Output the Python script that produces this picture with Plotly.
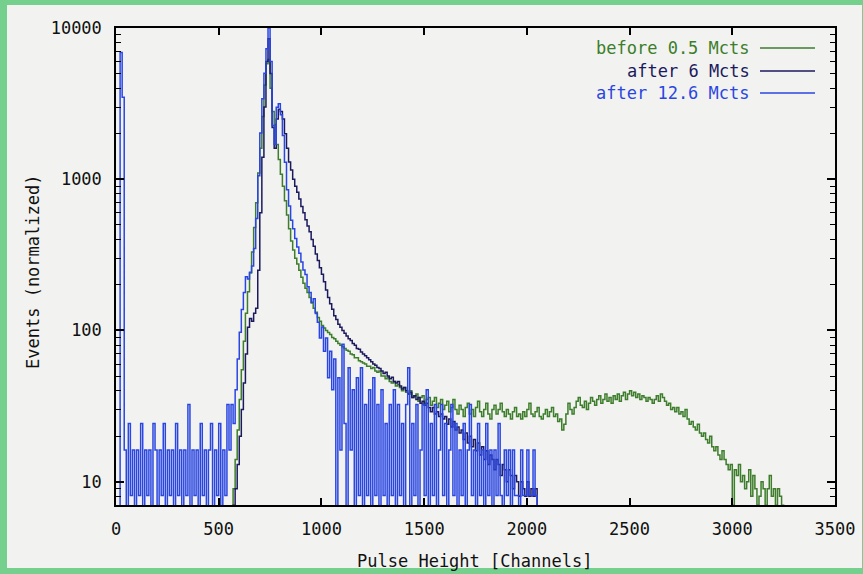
import plotly.graph_objects as go

# ---------------- data (channel bins of 10) ----------------
bin_width = 10

green_start = 560
green_values = [
    6, 9, 14, 22, 35, 55, 85, 130, 180, 240,
    330, 480, 700, 1100, 1600, 2600, 4200, 5800, 6200, 4000,
    2800, 2300, 1700, 1350, 1080, 900, 720, 580, 470, 390,
    340, 300, 275, 250, 225, 205, 190, 178, 165, 152,
    140, 132, 122, 115, 108, 104, 100, 97, 94, 90,
    88, 85, 82, 80, 78, 76, 74, 73, 70, 69,
    66, 66, 63, 62, 61, 60, 58, 58, 56, 57,
    54, 53, 54, 50, 50, 48, 49, 46, 45, 46,
    43, 44, 42, 40, 42, 39, 38, 40, 36, 37,
    38, 34, 36, 37, 33, 35, 36, 32, 34, 36,
    31, 33, 35, 30, 32, 34, 29, 31, 35, 30,
    28, 32, 30, 27, 31, 33, 28, 30, 27, 31,
    34, 29, 27, 30, 33, 28, 26, 30, 32, 28,
    30, 33, 29, 27, 30, 28, 26, 29, 31, 27,
    28, 26, 29, 27, 30, 33, 28, 27, 29, 31,
    27, 26, 28, 30, 27, 29, 31, 27, 28, 25,
    26, 22, 24, 28, 33, 30, 28, 31, 34, 36,
    32, 31, 34, 30, 33, 36, 34, 32, 35, 37,
    33, 35, 38, 34, 36, 33, 37, 35, 38, 34,
    37, 39, 35, 38, 40, 37, 39, 36, 38, 35,
    37, 36, 34, 36, 35, 33, 35, 37, 34, 38,
    36, 34, 32, 33, 30, 31, 29, 31, 28, 29,
    27, 30, 26, 24, 25, 23, 22, 24, 21, 20,
    21, 19, 18, 20, 17, 16, 17, 15, 14, 16,
    14, 13, 12, 13, 7, 12, 11, 13, 10, 11,
    9, 10, 12, 8, 11, 9, 7, 8, 10, 9,
    7, 9, 11, 8, 9, 7, 9, 8, 7, 6,
]

navy_start = 560
navy_values = [
    6, 7, 9, 13, 20, 30, 45, 70, 105, 120,
    115, 130, 140, 250, 600, 1400, 3000, 6000, 8500, 5000,
    2200, 1600, 2500, 2900, 2800, 2500, 2000, 1600, 1300, 1150,
    1000, 900, 820, 740, 660, 600, 540, 490, 450, 400,
    360, 320, 290, 260, 235, 210, 185, 165, 150, 138,
    125, 118, 110, 105, 100, 96, 92, 88, 86, 82,
    80, 76, 75, 72, 70, 68, 66, 64, 62, 60,
    59, 57, 56, 54, 52, 53, 50, 48, 49, 46,
    45, 46, 43, 41, 42, 40, 38, 39, 36, 37,
    35, 36, 33, 34, 32, 33, 31, 29, 31, 28,
    29, 27, 28, 26, 27, 24, 26, 23, 25, 22,
    23, 21, 22, 19, 21, 18, 20, 17, 19, 16,
    18, 15, 17, 14, 16, 13, 15, 14, 12, 14,
    13, 11, 13, 12, 10, 12, 11, 9, 11, 10,
    8, 10, 9, 8, 10, 8, 9, 8, 9, 6,
]

# raw counts of the last run; normalised with blue_norm
blue_start = 0
blue_norm = 8.1
blue_counts = [
    0, 0, 850, 430, 2, 0, 3, 1, 2, 0,
    2, 1, 3, 0, 2, 1, 2, 0, 3, 2,
    0, 2, 1, 3, 0, 2, 1, 2, 0, 3,
    1, 2, 0, 2, 1, 4, 0, 2, 1, 2,
    0, 3, 1, 2, 0, 2, 3, 0, 2, 1,
    3, 0, 2, 1, 4, 2, 4, 3, 5, 8,
    12, 17, 22, 28, 27, 30, 33, 43, 68, 130,
    250, 420, 620, 900, 1235, 740, 280, 210, 370, 390,
    330, 240, 160, 105, 82, 66, 58, 50, 44, 40,
    35, 31, 29, 24, 22, 19, 20, 16, 14, 11,
    13, 9, 11, 6, 9, 5, 8, 0, 6, 2,
    10, 3, 0, 7, 2, 5, 0, 6, 1, 7,
    0, 4, 1, 5, 0, 6, 1, 4, 0, 5,
    1, 3, 0, 4, 1, 5, 0, 4, 1, 3,
    0, 4, 7, 0, 3, 1, 4, 0, 2, 4,
    1, 5, 0, 3, 1, 4, 0, 2, 4, 1,
    3, 0, 2, 4, 1, 3, 0, 2, 1, 3,
    0, 2, 4, 1, 2, 0, 3, 1, 2, 0,
    3, 1, 2, 0, 2, 1, 3, 1, 0, 2,
    1, 2, 0, 2, 1, 1, 0, 2, 1, 1,
    2, 1, 1, 2, 1, 0,
]

series_names = ["before 0.5 Mcts", "after 6 Mcts", "after 12.6 Mcts"]
series_colors = ["#3d7d2c", "#1c1a5e", "#2a46e2"]

x_title = "Pulse Height [Channels]"
y_title = "Events (normalized)"
x_ticks = [0, 500, 1000, 1500, 2000, 2500, 3000, 3500]
y_ticks = [10, 100, 1000, 10000]
y_ticktext = ["10", "100", "1000", "10000"]
y_minor = [8, 9, 20, 30, 40, 50, 60, 70, 80, 90,
           200, 300, 400, 500, 600, 700, 800, 900,
           2000, 3000, 4000, 5000, 6000, 7000, 8000, 9000]

FLOOR = 1.0  # zero-count bins are drawn down past the bottom of the log axis


def bins(start, n):
    return [start + bin_width * i for i in range(n)]


blue_values = [c * blue_norm if c > 0 else FLOOR for c in blue_counts]

fig = go.Figure()
for name, color, start, vals in [
    (series_names[0], series_colors[0], green_start, green_values),
    (series_names[1], series_colors[1], navy_start, navy_values),
    (series_names[2], series_colors[2], blue_start, blue_values),
]:
    fig.add_trace(go.Scatter(
        x=bins(start, len(vals)), y=vals, mode="lines", name=name,
        line=dict(color=color, width=1.5, shape="hv"), showlegend=False,
    ))

W, H = 863, 574
ML, MR, MT, MB = 116, 28, 28, 69
pw, ph = W - ML - MR, H - MT - MB


def px_to_paper_x(px):
    return (px - ML) / pw


def px_to_paper_y(py):
    return (H - MB - py) / ph


FONT = "DejaVu Sans Mono"
BG = "#f2f3f0"
BORDER = "#74d08c"

shapes = [dict(type="rect", xref="paper", yref="paper", layer="below",
               x0=px_to_paper_x(7), x1=px_to_paper_x(862),
               y0=px_to_paper_y(568), y1=px_to_paper_y(5),
               fillcolor=BG, line=dict(width=0))]
annotations = []
legend_rows_py = [48, 71, 93]
for name, color, py in zip(series_names, series_colors, legend_rows_py):
    annotations.append(dict(
        xref="paper", yref="paper", x=px_to_paper_x(752), y=px_to_paper_y(py),
        xanchor="right", yanchor="middle", text=name, showarrow=False,
        font=dict(family=FONT, size=17, color=color)))
    shapes.append(dict(type="line", xref="paper", yref="paper",
                       x0=px_to_paper_x(760), x1=px_to_paper_x(815),
                       y0=px_to_paper_y(py), y1=px_to_paper_y(py),
                       line=dict(color=color, width=1.4)))

# axis titles
annotations.append(dict(xref="paper", yref="paper", x=px_to_paper_x(474), y=px_to_paper_y(561),
                        xanchor="center", yanchor="middle", text=x_title, showarrow=False,
                        font=dict(family=FONT, size=17, color="#111111")))
annotations.append(dict(xref="paper", yref="paper", x=px_to_paper_x(33), y=px_to_paper_y(272),
                        xanchor="center", yanchor="middle", text=y_title, showarrow=False,
                        textangle=-90, font=dict(family=FONT, size=17, color="#111111")))

fig.update_layout(
    width=W, height=H,
    margin=dict(l=ML, r=MR, t=MT, b=MB, pad=0, autoexpand=False),
    paper_bgcolor=BORDER, plot_bgcolor=BG,
    font=dict(family=FONT, size=17, color="#111111"),
    shapes=shapes, annotations=annotations,
    showlegend=False,
)
fig.update_xaxes(
    range=[0, 3500], tickvals=x_ticks, ticks="inside", ticklen=7, tickwidth=1.5,
    tickcolor="black", showline=True, linecolor="black", linewidth=1.5, mirror="ticks",
    showgrid=False, zeroline=False, ticklabelstandoff=8, automargin=False,
)
fig.update_yaxes(
    type="log", range=[0.846, 4.0], tickvals=y_ticks, ticktext=y_ticktext,
    ticks="inside", ticklen=8, tickwidth=1.5, tickcolor="black",
    minor=dict(tickvals=y_minor, ticks="inside", ticklen=5, tickwidth=1.2, tickcolor="black"),
    showline=True, linecolor="black", linewidth=1.5, mirror="ticks",
    showgrid=False, zeroline=False, ticklabelstandoff=9, automargin=False,
)

fig.write_html("out.html", config={"displayModeBar": False},
               post_script="document.body.style.margin='0px';"
                           "document.body.style.background='" + BORDER + "';")
